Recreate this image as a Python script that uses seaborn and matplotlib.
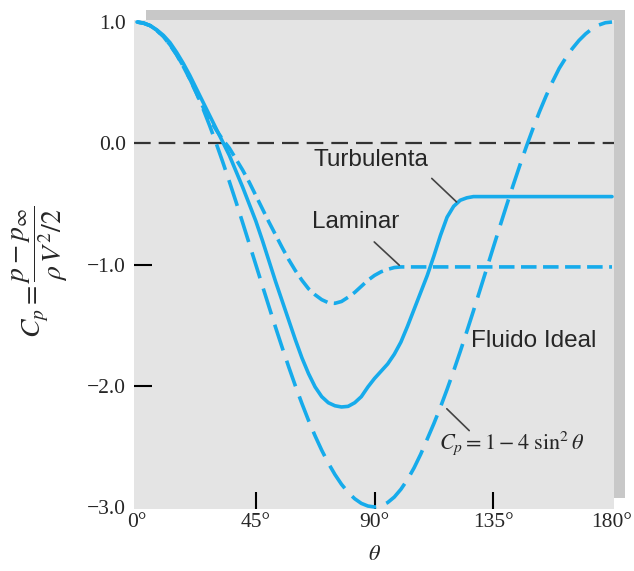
import matplotlib
matplotlib.use("Agg")
import matplotlib.pyplot as plt
import seaborn as sns
import pandas as pd
from matplotlib.patches import Rectangle

# ---------------- data ----------------
theta_ideal = [0, 2.5, 5, 7.5, 10, 12.5, 15, 17.5, 20, 22.5, 25, 27.5, 30, 32.5, 35, 37.5, 40,
               42.5, 45, 47.5, 50, 52.5, 55, 57.5, 60, 62.5, 65, 67.5, 70, 72.5, 75, 77.5, 80,
               82.5, 85, 87.5, 90, 92.5, 95, 97.5, 100, 102.5, 105, 107.5, 110, 112.5, 115,
               117.5, 120, 122.5, 125, 127.5, 130, 132.5, 135, 137.5, 140, 142.5, 145, 147.5,
               150, 152.5, 155, 157.5, 160, 162.5, 165, 167.5, 170, 172.5, 175, 177.5, 180]
cp_ideal = [1.0, 0.992, 0.970, 0.932, 0.879, 0.813, 0.732, 0.638, 0.532, 0.414, 0.286, 0.147,
            0.0, -0.155, -0.316, -0.482, -0.653, -0.826, -1.0, -1.174, -1.347, -1.518, -1.684,
            -1.845, -2.0, -2.147, -2.286, -2.414, -2.532, -2.638, -2.732, -2.813, -2.879,
            -2.932, -2.970, -2.992, -3.0, -2.991, -2.963, -2.918, -2.854, -2.774, -2.677,
            -2.565, -2.439, -2.312, -2.176, -2.030, -1.877, -1.717, -1.551, -1.382, -1.209,
            -1.035, -0.860, -0.687, -0.516, -0.349, -0.187, -0.030, 0.118, 0.259, 0.389,
            0.509, 0.618, 0.705, 0.782, 0.848, 0.902, 0.945, 0.975, 0.994, 1.0]

theta_turb = [0, 2.5, 5, 7.5, 10, 12.5, 15, 17.5, 20, 22.5, 25, 27.5, 30, 32.5, 35, 37.5, 40,
              42.5, 45, 47.5, 50, 52.5, 55, 57.5, 60, 62.5, 65, 67.5, 70, 72.5, 75, 77.5, 80,
              82.5, 85, 87.5, 90, 92.5, 95, 97.5, 100, 102.5, 105, 107.5, 110, 112.5, 115,
              117.5, 120, 122.5, 125, 127.5, 130, 180]
cp_turb = [1.0, 0.99, 0.97, 0.935, 0.89, 0.83, 0.75, 0.66, 0.56, 0.45, 0.34, 0.23, 0.12, 0.01,
           -0.10, -0.23, -0.36, -0.50, -0.64, -0.80, -0.97, -1.14, -1.30, -1.46, -1.62, -1.77,
           -1.90, -2.01, -2.09, -2.14, -2.165, -2.175, -2.17, -2.14, -2.09, -2.01, -1.94,
           -1.88, -1.82, -1.74, -1.64, -1.51, -1.37, -1.23, -1.09, -0.93, -0.76, -0.61,
           -0.52, -0.47, -0.45, -0.44, -0.44, -0.44]

theta_lam = [0, 2.5, 5, 7.5, 10, 12.5, 15, 17.5, 20, 22.5, 25, 27.5, 30, 32.5, 35, 37.5, 40,
             42.5, 45, 47.5, 50, 52.5, 55, 57.5, 60, 62.5, 65, 67.5, 70, 72.5, 75, 77.5, 80,
             82.5, 85, 87.5, 90, 92.5, 95, 97.5, 100, 180]
cp_lam = [1.0, 0.99, 0.97, 0.93, 0.88, 0.81, 0.73, 0.635, 0.53, 0.415, 0.30, 0.20, 0.11, 0.03,
          -0.04, -0.13, -0.22, -0.32, -0.43, -0.54, -0.65, -0.755, -0.86, -0.96, -1.05, -1.13,
          -1.20, -1.25, -1.29, -1.315, -1.32, -1.305, -1.27, -1.23, -1.18, -1.13, -1.09,
          -1.06, -1.04, -1.025, -1.02, -1.02]

y_ticks = [1.0, 0.0, -1.0, -2.0, -3.0]
y_ticklabels = ["1.0", "0.0", "\u22121.0", "\u22122.0", "\u22123.0"]
x_ticks = [0, 45, 90, 135, 180]
x_ticklabels = ["0\u00b0", "45\u00b0", "90\u00b0", "135\u00b0", "180\u00b0"]

# ---------------- style ----------------
sns.set_theme(style="white")
plt.rcParams["font.family"] = ["Liberation Serif", "DejaVu Serif"]
plt.rcParams["mathtext.fontset"] = "stix"

BLUE = "#16abeb"
W, H = 634, 571
fig = plt.figure(figsize=(W / 100, H / 100), dpi=100)
ax = fig.add_axes([134 / W, 1 - 509 / H, (614 - 134) / W, (509 - 20) / H])
ax.set_facecolor("#e4e4e4")

# shadow behind plot area
fig.patches.append(Rectangle((146 / W, 1 - 498 / H), (625 - 146) / W, (498 - 10) / H,
                             transform=fig.transFigure, facecolor="#c8c8c8",
                             edgecolor="none", zorder=-1))

ax.axhline(0.0, color="#333333", lw=1.6, dashes=(7.5, 3.6), zorder=1)

df_i = pd.DataFrame({"theta": theta_ideal, "cp": cp_ideal})
df_t = pd.DataFrame({"theta": theta_turb, "cp": cp_turb})
df_l = pd.DataFrame({"theta": theta_lam, "cp": cp_lam})

sns.lineplot(data=df_i, x="theta", y="cp", ax=ax, color=BLUE, lw=2.6, sort=False)
ax.lines[-1].set_dashes((7.5, 3.0))
sns.lineplot(data=df_l, x="theta", y="cp", ax=ax, color=BLUE, lw=2.6, sort=False)
ax.lines[-1].set_dashes((4.3, 1.8))
sns.lineplot(data=df_t, x="theta", y="cp", ax=ax, color=BLUE, lw=2.6, sort=False)

ax.set_xlim(-1.14, 180.76)
ax.set_ylim(-3.0165, 1.0165)
for s in ax.spines.values():
    s.set_visible(False)

ax.set_yticks(y_ticks)
ax.set_yticklabels(y_ticklabels)
ax.set_xticks(x_ticks)
ax.set_xticklabels(x_ticklabels)
ax.tick_params(axis="y", direction="in", length=13, width=1.5, color="black",
               labelsize=15.5, pad=6, left=True)
ax.tick_params(axis="x", direction="in", length=12, width=1.5, color="black",
               labelsize=15.5, pad=3, bottom=True)
for i, t in enumerate(ax.yaxis.get_major_ticks()):
    if i in (0, 1, 4):
        t.tick1line.set_visible(False)
for i, t in enumerate(ax.xaxis.get_major_ticks()):
    if i in (0, 4):
        t.tick1line.set_visible(False)
ax.set_xlabel("")
ax.set_ylabel("")

# axis labels
fig.text(375 / W, 1 - 556 / H, r"$\theta$", ha="center", va="center", fontsize=16)
fig.text(40 / W, 1 - 272 / H, r"$C_p = \dfrac{p - p_\infty}{\rho\, V^2/2}$",
         rotation=90, ha="center", va="center", fontsize=20)

# annotations
sans = ["Liberation Sans", "DejaVu Sans"]
ax.text(88.5, -0.14, "Turbulenta", family=sans, fontsize=17.5, ha="center", va="center")
ax.text(83.0, -0.65, "Laminar", family=sans, fontsize=17.5, ha="center", va="center")
ax.text(150.5, -1.63, "Fluido Ideal", family=sans, fontsize=17.5, ha="center", va="center")
ax.text(142.0, -2.47, r"$C_p = 1 - 4\ \sin^2\theta$", fontsize=16, ha="center", va="center")

ax.annotate("", xy=(121.1, -0.484), xytext=(111.7, -0.29),
            arrowprops=dict(arrowstyle="-", color="#444444", lw=1.2,
                            shrinkA=0, shrinkB=0))
ax.annotate("", xy=(99.4, -1.006), xytext=(89.9, -0.814),
            arrowprops=dict(arrowstyle="-", color="#444444", lw=1.2,
                            shrinkA=0, shrinkB=0))
ax.annotate("", xy=(117.4, -2.19), xytext=(125.9, -2.37),
            arrowprops=dict(arrowstyle="-", color="#444444", lw=1.2,
                            shrinkA=0, shrinkB=0))

fig.savefig("out.png", dpi=100)
